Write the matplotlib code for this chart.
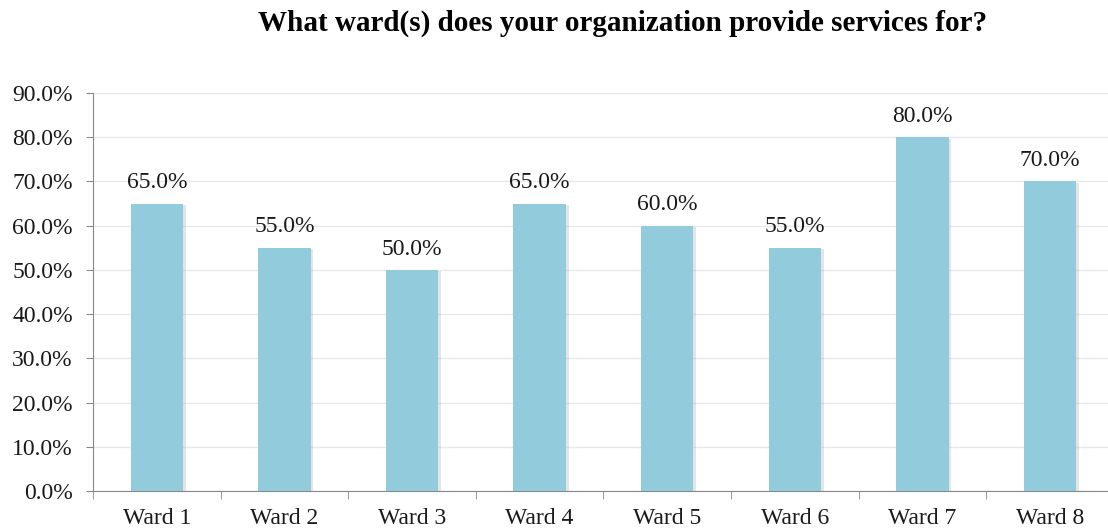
import numpy as np
import matplotlib.pyplot as plt
import matplotlib.patheffects as pe
from matplotlib.ticker import FuncFormatter, FixedLocator

plt.rcParams['font.family'] = ['Liberation Serif', 'DejaVu Serif']

wards = ['Ward 1', 'Ward 2', 'Ward 3', 'Ward 4', 'Ward 5', 'Ward 6', 'Ward 7', 'Ward 8']
share = [0.65, 0.55, 0.50, 0.65, 0.60, 0.55, 0.80, 0.70]

fig = plt.figure(figsize=(11.08, 5.31), dpi=100)
# plot area runs slightly past the right edge of the canvas
ax = fig.add_axes([0.0839, 0.0753, 0.9215, 0.7496])

x = np.arange(len(wards))
bars = ax.bar(x, share, width=0.41, color='#92CBDC', zorder=3)
for b in bars:
    b.set_path_effects([pe.SimplePatchShadow(offset=(2, -1), shadow_rgbFace='#aaaaaa', alpha=0.3),
                        pe.Normal()])

for xi, v in zip(x, share):
    ax.annotate(f'{v*100:.1f}%', (xi, v), xytext=(0, 11), textcoords='offset points',
                ha='center', va='baseline', fontsize=17, color='#1a1a1a')

ax.set_xlim(-0.5, len(wards) - 0.5)
ax.set_ylim(0, 0.9)
ax.set_yticks(np.arange(0, 0.91, 0.1))
ax.yaxis.set_major_formatter(FuncFormatter(lambda v, p: f'{v*100:.1f}%'))
ax.grid(axis='y', color='#e8e8e8', linewidth=1, zorder=0)

# category labels centred, tick marks on the boundaries
ax.set_xticks(x)
ax.set_xticklabels(wards)
ax.xaxis.set_minor_locator(FixedLocator(np.arange(-0.5, len(wards), 1.0)))
ax.tick_params(axis='x', which='major', length=0, pad=12, labelsize=17, labelcolor='#1a1a1a')
ax.tick_params(axis='x', which='minor', length=6, color='#888888')
ax.tick_params(axis='y', length=5, color='#888888', labelsize=17, pad=9.5, labelcolor='#1a1a1a')

for s in ['top', 'right']:
    ax.spines[s].set_visible(False)
for s in ['left', 'bottom']:
    ax.spines[s].set_color('#888888')

fig.text(0.562, 0.9416, 'What ward(s) does your organization provide services for?',
         ha='center', va='baseline', fontsize=21, fontweight='bold')

fig.savefig('out.png', dpi=100)
